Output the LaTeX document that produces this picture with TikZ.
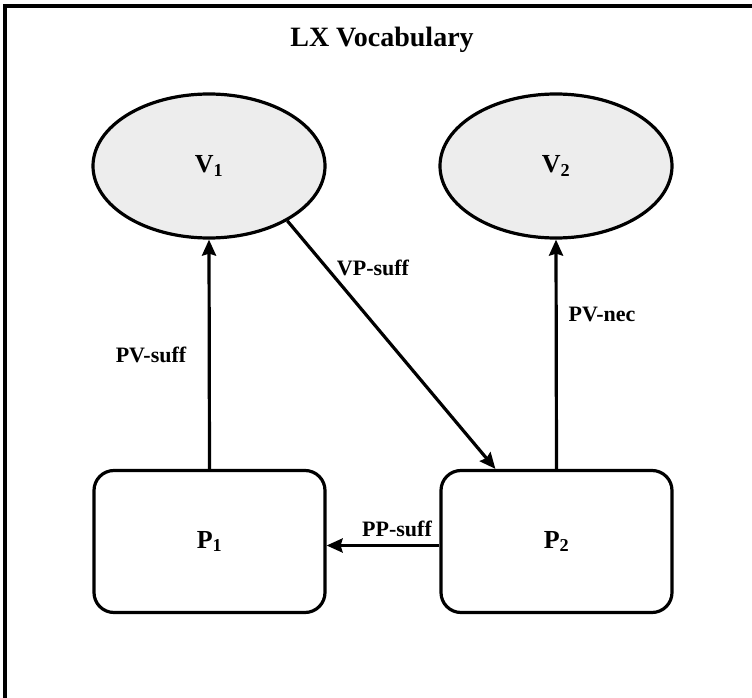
\documentclass[tikz,border=0pt]{standalone}
\usepackage{fontspec}
\setmainfont{Liberation Serif}
\usetikzlibrary{arrows.meta,calc,shapes.geometric}
\definecolor{vfill}{HTML}{EDEDED}
\begin{document}
\begin{tikzpicture}[x=1pt,y=-1pt,
  vnode/.style={ellipse,draw,line width=3.2pt,fill=vfill,minimum width=232pt,minimum height=144pt,inner sep=0pt,font=\fontsize{26}{30}\selectfont\bfseries},
  pnode/.style={rectangle,draw,line width=3.2pt,rounded corners=20pt,minimum width=231pt,minimum height=142pt,inner sep=0pt,font=\fontsize{26}{30}\selectfont\bfseries},
  arr/.style={line width=3.2pt,-{Stealth[length=16pt,width=14pt,inset=2pt]}},
  lbl/.style={font=\fontsize{22}{26}\selectfont\bfseries,inner sep=1pt},
  ttl/.style={font=\fontsize{28}{32}\selectfont\bfseries}]
\useasboundingbox (0,0) rectangle (752,698);
\draw[line width=3.2pt] (5,700) -- (5,6) -- (754,6);
\node[ttl] (title) at (382,40) {LX Vocabulary};
\node[vnode] (V1) at (209,166) {V\textsubscript{1}};
\node[vnode] (V2) at (556,166) {V\textsubscript{2}};
\node[pnode] (P1) at (209.5,541.5) {P\textsubscript{1}};
\node[pnode] (P2) at (556.5,541.5) {P\textsubscript{2}};
\draw[arr] (P1.north) -- (V1.south);
\draw[arr] (P2.north) -- (V2.south);
\draw[arr] (V1.-35) -- ($(P2.north west)+(56,0)$);
\draw[arr] ($(P2.west)+(0,4)$) -- ($(P1.east)+(0,4)$);
\node[lbl] (lpv1) at (151,355) {PV-suff};
\node[lbl] (lvp) at (373,268) {VP-suff};
\node[lbl] (lpv2) at (602,314) {PV-nec};
\node[lbl] (lpp) at (397,529) {PP-suff};
\end{tikzpicture}
\end{document}
